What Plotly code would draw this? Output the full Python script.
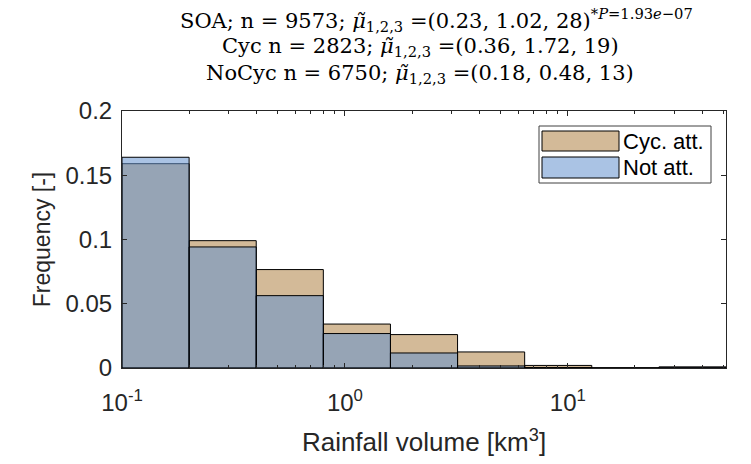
import plotly.graph_objects as go
import numpy as np

# ---- data ----
bin_edges = [0.1, 0.2, 0.4, 0.8, 1.6, 3.2, 6.4, 12.8, 25.6, 51.2]
cyc_att = [0.159, 0.0991, 0.0766, 0.0342, 0.0260, 0.0125, 0.0020, 0.0, 0.0008]
not_att = [0.164, 0.0942, 0.0563, 0.0268, 0.0117, 0.0016, 0.0004, 0.0, 0.0006]
series_names = ["Cyc. att.", "Not att."]
y_ticks = [0, 0.05, 0.1, 0.15, 0.2]
y_ticktext = ["0", "0.05", "0.1", "0.15", "0.2"]
x_ticks = [0.1, 1, 10]
x_ticktext = ["10<sup>-1</sup>", "10<sup>0</sup>", "10<sup>1</sup>"]
MU = "<i>μ̃</i><sub>1,2,3</sub>"
title_lines = [
    "SOA; n = 9573; " + MU + " =(0.23, 1.02, 28)<sup>*<i>P</i>=1.93<i>e</i>−07</sup>",
    "Cyc n = 2823; " + MU + " =(0.36, 1.72, 19)",
    "NoCyc n = 6750; " + MU + " =(0.18, 0.48, 13)",
]

TAN_FILL = "rgba(175,129,68,0.55)"
BLUE_FILL = "rgba(100,146,206,0.55)"
AX = "rgb(38,38,38)"
SANS = "Liberation Sans, Arial, sans-serif"
SERIF = "DejaVu Serif, serif"

W, H = 751, 464
L, R, T, B = 122, 25, 111, 96


def bar_polygons(edges, heights):
    xs, ys = [], []
    for i, h in enumerate(heights):
        x0, x1 = edges[i], edges[i + 1]
        xs += [x0, x0, x1, x1, x0, None]
        ys += [0, h, h, 0, 0, None]
    return xs, ys


fig = go.Figure()
for vals, fill, name in [(cyc_att, TAN_FILL, series_names[0]), (not_att, BLUE_FILL, series_names[1])]:
    xs, ys = bar_polygons(bin_edges, vals)
    fig.add_trace(go.Scatter(x=xs, y=ys, mode="lines", fill="toself", fillcolor=fill,
                             line=dict(color="black", width=1), name=name,
                             showlegend=False, hoverinfo="skip"))

minor_vals = [m * 10 ** e for e in (-1, 0, 1) for m in range(2, 10) if m * 10 ** e < 51.2]

fig.update_layout(
    width=W, height=H,
    margin=dict(l=L, r=R, t=T, b=B, autoexpand=False),
    paper_bgcolor="white", plot_bgcolor="white",
    xaxis=dict(type="log", range=[np.log10(bin_edges[0]), np.log10(bin_edges[-1])],
               automargin=False,
               tickmode="array", tickvals=x_ticks, ticktext=x_ticktext,
               ticks="inside", ticklen=5, tickcolor=AX, mirror="ticks",
               ticklabelstandoff=13,
               showline=True, linecolor=AX, linewidth=1, showgrid=False, zeroline=False,
               minor=dict(tickmode="array", tickvals=minor_vals, ticks="inside",
                          ticklen=3, tickcolor=AX, showgrid=False),
               tickfont=dict(family=SANS, size=24, color=AX),
               title=dict(text="Rainfall volume [km<sup>3</sup>]", standoff=18,
                          font=dict(family=SANS, size=26, color=AX))),
    yaxis=dict(range=[0, 0.2], tickmode="array", tickvals=y_ticks, ticktext=y_ticktext,
               automargin=False,
               ticks="inside", ticklen=5, tickcolor=AX, mirror="ticks",
               ticklabelstandoff=4,
               showline=True, linecolor=AX, linewidth=1, showgrid=False, zeroline=False,
               tickfont=dict(family=SANS, size=24, color=AX),
               title=dict(text="Frequency [-]", standoff=8,
                          font=dict(family=SANS, size=23, color=AX))),
)

pw, ph = W - L - R, H - T - B


def px_x(p):
    return (p - L) / pw


def px_y(p):
    return (H - B - p) / ph


# title as three centred lines
for line, xc, yc in zip(title_lines, [436, 420, 420], [20, 47, 74]):
    fig.add_annotation(xref="paper", yref="paper", x=px_x(xc), y=px_y(yc),
                       xanchor="center", yanchor="middle", showarrow=False, text=line,
                       font=dict(family=SERIF, size=21, color="black"))

# legend drawn as a box with patches
fig.add_shape(type="rect", xref="paper", yref="paper", x0=px_x(539), x1=px_x(711),
              y0=px_y(183), y1=px_y(126), line=dict(color="rgb(64,64,64)", width=1),
              fillcolor="white", layer="above")
for (fill, name), (ya, yb) in zip([(TAN_FILL, series_names[0]), (BLUE_FILL, series_names[1])],
                                  [(131, 151), (157, 178)]):
    fig.add_shape(type="rect", xref="paper", yref="paper", x0=px_x(542), x1=px_x(619),
                  y0=px_y(yb), y1=px_y(ya), line=dict(color="black", width=1),
                  fillcolor=fill, layer="above")
    fig.add_annotation(xref="paper", yref="paper", x=px_x(621), y=px_y((ya + yb) / 2),
                       xanchor="left", yanchor="middle", showarrow=False, text=name,
                       font=dict(family=SANS, size=22, color="black"))

fig.write_html("out.html", config={"displayModeBar": False},
               post_script="document.body.style.margin='0';document.body.style.padding='0';")
